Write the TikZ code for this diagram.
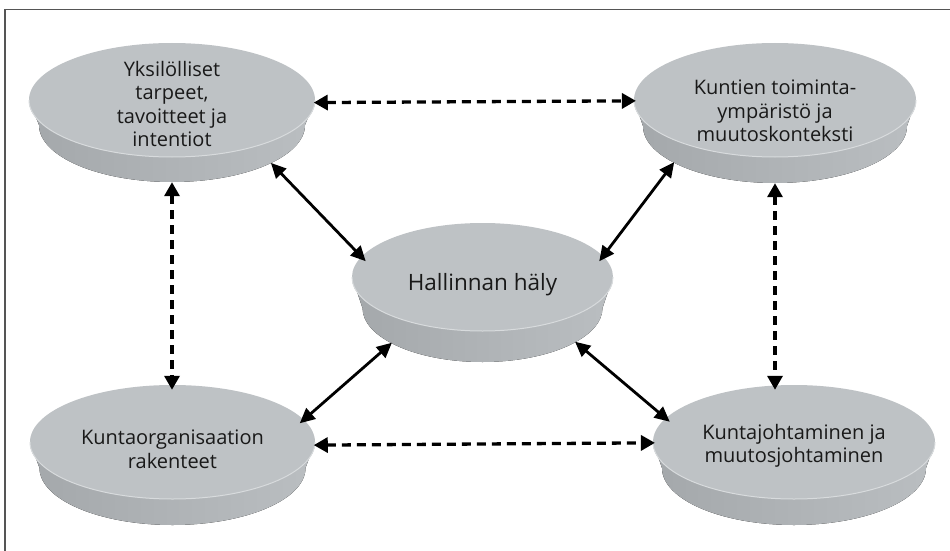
\documentclass[tikz,border=0pt]{standalone}
\usepackage{fontspec}
\setmainfont{Open Sans}
\usetikzlibrary{shapes.geometric,arrows.meta}
\definecolor{facegray}{RGB}{190,194,197}
\definecolor{banddark}{RGB}{164,168,171}
\definecolor{bandlight}{RGB}{186,190,193}
\definecolor{rimgray}{RGB}{216,219,221}
\definecolor{framegray}{RGB}{85,85,85}
\definecolor{txt}{RGB}{25,25,25}
\tikzset{
  discshape/.style={ellipse, draw=none, inner sep=0pt},
  disctext/.style={align=center, text=txt, font=\fontsize{20}{23.5}\selectfont, inner sep=0pt},
  solidarrow/.style={{Triangle[length=15pt,width=14pt]}-{Triangle[length=15pt,width=14pt]}, line width=2.8pt, black},
  dasharrow/.style={{Triangle[length=14pt,width=15pt]}-{Triangle[length=14pt,width=15pt]}, line width=3.3pt, black, dash pattern=on 9pt off 6pt},
}
% cx, cy, rx (top), rb (bottom), ry, h
\newcommand\drawdisc[6]{%
  \fill[left color=banddark,right color=bandlight]
    (#1-#3,#2) -- (#1-#4,#2+#6)
    arc[start angle=180,end angle=0,x radius=#4,y radius=#5]
    -- (#1+#3,#2)
    arc[start angle=0,end angle=180,x radius=#3,y radius=#5] -- cycle;
  \fill[facegray] (#1,#2) ellipse[x radius=#3,y radius=#5];
  \draw[rimgray,line width=1pt] (#1+#3,#2) arc[start angle=0,end angle=180,x radius=#3,y radius=#5];
}
\begin{document}
\begin{tikzpicture}[x=1pt,y=-1pt]
\useasboundingbox (0,0) rectangle (950,551);
% frame
\draw[framegray,line width=1.5pt] (950,9.5) -- (5,9.5) -- (5,551);
% discs
\drawdisc{172}{100}{143}{133}{57}{25}
\drawdisc{775}{100}{141}{132}{57}{26}
\drawdisc{172.5}{442}{142.5}{133}{57}{26}
\drawdisc{794}{442}{141}{132}{57}{26}
\drawdisc{482.5}{277}{130.5}{120}{54}{31}
% nodes
\node[discshape,minimum width=286pt,minimum height=139pt,
  label={[disctext,yshift=8.5pt]center:{Yksilölliset\\tarpeet,\\tavoitteet ja\\intentiot}}] (tl) at (172,112.5) {};
\node[discshape,minimum width=282pt,minimum height=140pt,
  label={[disctext,yshift=2pt]center:{Kuntien toiminta-\\ympäristö ja\\muutoskonteksti}}] (tr) at (775,113) {};
\node[discshape,minimum width=285pt,minimum height=140pt,
  label={[disctext,yshift=5.5pt]center:{Kuntaorganisaation\\rakenteet}}] (bl) at (172.5,455) {};
\node[discshape,minimum width=282pt,minimum height=140pt,
  label={[disctext,yshift=9pt]center:{Kuntajohtaminen ja\\muutosjohtaminen}}] (br) at (794,455) {};
\node[discshape,minimum width=261pt,minimum height=139pt,
  label={[disctext,font=\fontsize{22.5}{26}\selectfont,yshift=7.5pt]center:{Hallinnan häly}}] (c) at (482.5,292.5) {};
% solid connectors
\draw[solidarrow] (tl.-27.5) -- (c.165);
\draw[solidarrow] (tr.206.1) -- (c.15);
\draw[solidarrow] (bl.14.9) -- (c.209.4);
\draw[solidarrow] (br.165) -- (c.-28.6);
% dashed connectors
\draw[dasharrow] (tl.4) -- (tr.175.5);
\draw[dasharrow] (bl.4.8) -- (br.175.1);
\draw[dasharrow,shorten >=-5pt] (tl.south) -- (tl.south |- bl.north);
\draw[dasharrow,shorten >=-5pt] (tr.south) -- (tr.south |- br.north);
\end{tikzpicture}
\end{document}
